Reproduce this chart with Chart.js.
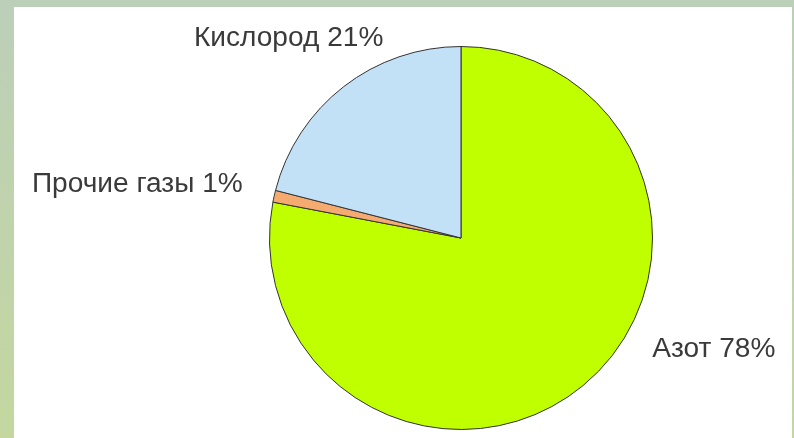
<!DOCTYPE html>
<html>
<head>
<meta charset="utf-8">
<script src="https://cdn.jsdelivr.net/npm/chart.js@4"></script>
<style>
  html, body { margin: 0; padding: 0; }
  body {
    width: 794px; height: 438px; overflow: hidden; position: relative;
    background: linear-gradient(180deg, #bccfb9 0%, #c3d79f 100%);
  }
  #wrap {
    position: absolute; left: 14px; top: 7px; width: 778px; height: 431px;
    background: #ffffff;
  }
  canvas { display: block; }
</style>
</head>
<body>
<div id="wrap"><canvas id="c" width="778" height="431"></canvas></div>
<script>
const categories = ["Азот", "Прочие газы", "Кислород"];
const values = [78, 1, 21];
const labelTexts = ["Азот 78%", "Прочие газы 1%", "Кислород 21%"];
const colors = ["#bfff00", "#f5aa70", "#c2e1f7"];

// label anchor offsets relative to pie centre, in units of radius
const labelOffsets = [[1.32, 0.58], [-1.69, -0.28], [-0.90, -1.04]];

const labelPlugin = {
  id: 'sliceLabels',
  afterDatasetsDraw(chart) {
    const ctx = chart.ctx;
    const meta = chart.getDatasetMeta(0);
    ctx.save();
    ctx.font = '27px "Liberation Sans", Arial, sans-serif';
    ctx.fillStyle = '#3a3a3a';
    ctx.textAlign = 'center';
    ctx.textBaseline = 'middle';
    meta.data.forEach((arc, i) => {
      const r = arc.outerRadius;
      const x = arc.x + labelOffsets[i][0] * r;
      const y = arc.y + labelOffsets[i][1] * r;
      ctx.save();
      ctx.translate(x, y);
      ctx.scale(1.04, 1);
      ctx.fillText(labelTexts[i], 0, 0);
      ctx.restore();
    });
    ctx.restore();
  }
};

new Chart(document.getElementById('c'), {
  type: 'pie',
  data: {
    labels: categories,
    datasets: [{
      data: values,
      backgroundColor: colors,
      borderColor: '#333333',
      borderWidth: 1
    }]
  },
  options: {
    responsive: false,
    animation: false,
    layout: { padding: { left: 255, right: 139, top: 39, bottom: 8 } },
    plugins: {
      legend: { display: false },
      tooltip: { enabled: false }
    }
  },
  plugins: [labelPlugin]
});
</script>
</body>
</html>
